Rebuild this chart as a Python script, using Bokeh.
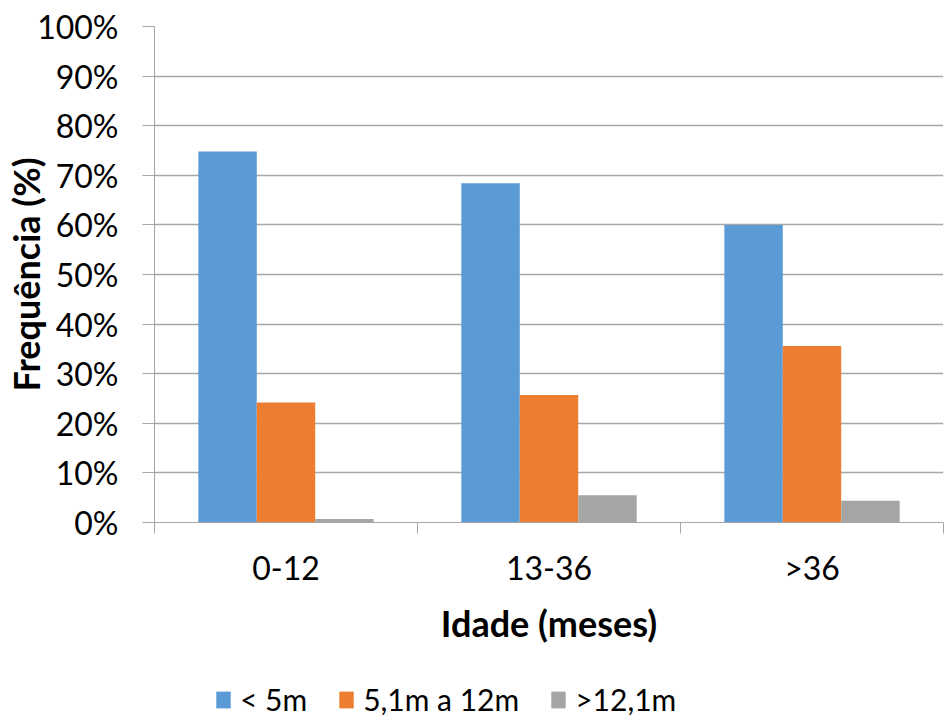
from bokeh.plotting import figure
from bokeh.layouts import column
from bokeh.models import (Range1d, FixedTicker, NumeralTickFormatter, Legend,
                          LegendItem, ColumnDataSource)
from bokeh.embed import file_html
from bokeh.resources import INLINE

# Age groups and distance classes
categories = ["0-12", "13-36", ">36"]
series_names = ["< 5m", "5,1m a 12m", ">12,1m"]
lt_5m = [0.748, 0.684, 0.600]
m5_to_12 = [0.242, 0.257, 0.356]
gt_12m = [0.007, 0.055, 0.044]
colors = ["#5B9BD5", "#ED7D31", "#A5A5A5"]

FONT = "Lato"
TICK_SIZE = "32px"
TITLE_SIZE = "36px"
LEGEND_SIZE = "30px"
GRID = "#A6A6A6"
n = len(categories)
centers = [i + 0.5 for i in range(n)]
bar_w = 1.0 / 4.5  # three bars + 150% gap

p = figure(width=945, height=657, output_backend="svg", toolbar_location=None,
           x_range=Range1d(0, n), y_range=Range1d(0, 1),
           min_border_left=154, min_border_right=2, min_border_top=26,
           min_border_bottom=135)
p.outline_line_color = None

for k, (vals, col) in enumerate(zip([lt_5m, m5_to_12, gt_12m], colors)):
    xs = [c + (k - 1) * bar_w for c in centers]
    src = ColumnDataSource(dict(x=xs, top=vals))
    p.vbar(x="x", top="top", width=bar_w, bottom=0, source=src,
           fill_color=col, line_color=None)

# y axis
p.yaxis.ticker = FixedTicker(ticks=[i / 10 for i in range(11)])
p.yaxis.formatter = NumeralTickFormatter(format="0%")
p.yaxis.major_tick_out = 12
p.yaxis.major_tick_in = 0
p.yaxis.minor_tick_line_color = None
p.yaxis.major_tick_line_color = GRID
p.yaxis.axis_line_color = GRID
p.yaxis.major_label_standoff = 24
p.yaxis.major_label_text_font = FONT
p.yaxis.major_label_text_font_size = TICK_SIZE
p.yaxis.major_label_text_color = "black"
p.yaxis.axis_label = "Frequência (%)"
p.yaxis.axis_label_text_font = FONT
p.yaxis.axis_label_text_font_style = "bold"
p.yaxis.axis_label_text_font_size = TITLE_SIZE
p.yaxis.axis_label_text_color = "black"
p.yaxis.axis_label_standoff = -14

# x axis: labels at group centres, tick marks at group boundaries
p.xaxis.ticker = FixedTicker(ticks=centers, minor_ticks=list(range(n + 1)))
p.xaxis.major_label_overrides = {c: lab for c, lab in zip(centers, categories)}
p.xaxis.major_tick_out = 0
p.xaxis.major_tick_in = 0
p.xaxis.minor_tick_out = 11
p.xaxis.minor_tick_in = 0
p.xaxis.minor_tick_line_color = GRID
p.xaxis.axis_line_color = GRID
p.xaxis.major_label_standoff = 14
p.xaxis.major_label_text_font = FONT
p.xaxis.major_label_text_font_size = TICK_SIZE
p.xaxis.major_label_text_color = "black"
p.xaxis.axis_label = "Idade (meses)"
p.xaxis.axis_label_text_font = FONT
p.xaxis.axis_label_text_font_style = "bold"
p.xaxis.axis_label_text_font_size = TITLE_SIZE
p.xaxis.axis_label_text_color = "black"
p.xaxis.axis_label_standoff = 11

p.xgrid.grid_line_color = None
p.ygrid.ticker = FixedTicker(ticks=[i / 10 for i in range(11)])
p.ygrid.grid_line_color = GRID
p.ygrid.grid_line_width = 1.3

# legend strip underneath the chart; its swatch bars sit outside the view
leg = figure(width=945, height=60, output_backend="svg", toolbar_location=None,
             x_range=Range1d(0, 945), y_range=Range1d(0, 60),
             min_border=0, x_axis_type=None, y_axis_type=None)
leg.outline_line_color = None
leg.grid.grid_line_color = None
swatches = []
for col in colors:
    swatches.append(leg.vbar(x=[-100], top=[-50], bottom=[-60], width=1,
                             fill_color=col, line_color=None))
legend = Legend(items=[LegendItem(label=name, renderers=[r])
                       for name, r in zip(series_names, swatches)],
                orientation="horizontal", location=(60, 0),
                glyph_width=18, glyph_height=21, label_standoff=8, spacing=30,
                padding=0, margin=0, border_line_color=None,
                background_fill_alpha=0,
                label_text_font=FONT, label_text_font_size=LEGEND_SIZE,
                label_text_color="black")
leg.add_layout(legend)

open("out.html", "w").write(file_html(column(p, leg, spacing=0), INLINE))
